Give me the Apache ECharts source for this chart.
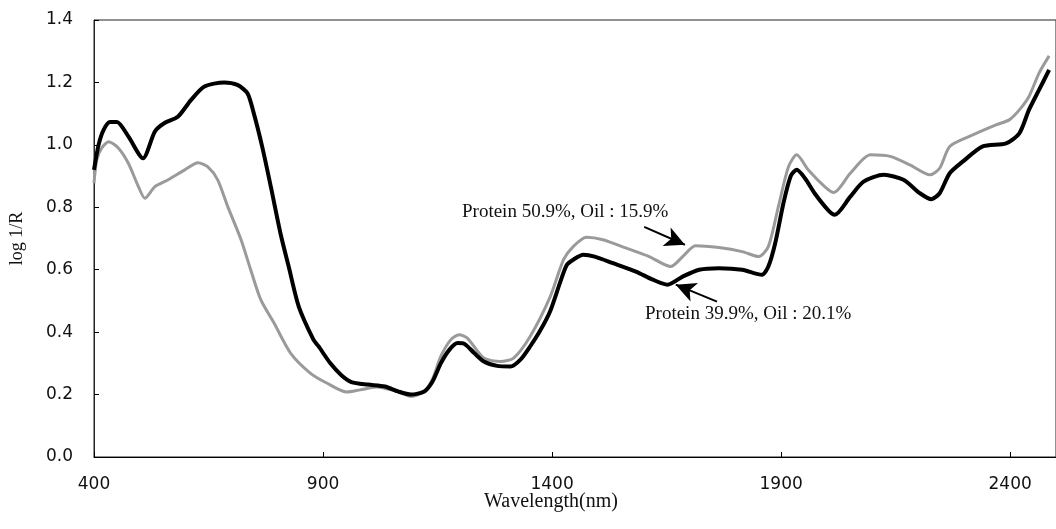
<!DOCTYPE html>
<html>
<head>
<meta charset="utf-8">
<script src="https://cdn.jsdelivr.net/npm/echarts@6/dist/echarts.min.js"></script>
<style>
  html, body { margin: 0; padding: 0; background: #fff; }
  #chart { width: 1056px; height: 529px; }
</style>
</head>
<body>
<div id="chart"></div>
<script>
// spectrum of the low protein sample (Protein 39.9%, Oil : 20.1%)
const blackWl = [400, 410, 421, 435, 450, 475, 507, 533, 554, 583, 612, 641, 684, 713, 735, 749, 767, 786, 807, 825, 847, 879, 890, 916, 940, 962, 998, 1035, 1064, 1092, 1121, 1139, 1157, 1176, 1194, 1208, 1230, 1251, 1280, 1309, 1331, 1352, 1374, 1396, 1417, 1432, 1446, 1468, 1493, 1533, 1583, 1620, 1652, 1685, 1721, 1764, 1815, 1858, 1872, 1887, 1905, 1921, 1934, 1952, 1973, 2002, 2017, 2051, 2080, 2124, 2167, 2203, 2228, 2246, 2268, 2297, 2340, 2391, 2420, 2441, 2463, 2485];
const blackVal = [0.92, 1.0, 1.048, 1.073, 1.073, 1.027, 0.957, 1.043, 1.07, 1.09, 1.144, 1.187, 1.2, 1.192, 1.165, 1.10, 0.995, 0.866, 0.717, 0.61, 0.482, 0.376, 0.355, 0.30, 0.262, 0.24, 0.232, 0.226, 0.21, 0.2, 0.21, 0.242, 0.30, 0.344, 0.365, 0.363, 0.333, 0.306, 0.292, 0.29, 0.312, 0.354, 0.405, 0.468, 0.557, 0.615, 0.632, 0.648, 0.642, 0.621, 0.594, 0.568, 0.552, 0.578, 0.60, 0.605, 0.60, 0.584, 0.61, 0.685, 0.813, 0.90, 0.92, 0.893, 0.845, 0.792, 0.776, 0.834, 0.882, 0.904, 0.888, 0.845, 0.826, 0.845, 0.909, 0.947, 0.995, 1.005, 1.037, 1.112, 1.176, 1.24];

// spectrum of the high protein sample (Protein 50.9%, Oil : 15.9%)
const grayWl = [400, 406, 417, 432, 453, 475, 497, 511, 533, 562, 598, 627, 648, 670, 692, 721, 742, 764, 793, 829, 872, 908, 952, 981, 1017, 1049, 1070, 1092, 1121, 1139, 1157, 1179, 1197, 1215, 1251, 1287, 1316, 1352, 1396, 1425, 1446, 1475, 1511, 1562, 1612, 1659, 1685, 1713, 1764, 1815, 1851, 1872, 1894, 1916, 1934, 1959, 1995, 2015, 2051, 2095, 2138, 2181, 2225, 2246, 2268, 2311, 2369, 2398, 2420, 2441, 2463, 2485];
const grayVal = [0.877, 0.952, 0.99, 1.01, 0.99, 0.941, 0.866, 0.829, 0.866, 0.888, 0.92, 0.943, 0.93, 0.888, 0.802, 0.696, 0.60, 0.504, 0.429, 0.333, 0.269, 0.237, 0.208, 0.215, 0.224, 0.215, 0.205, 0.194, 0.21, 0.25, 0.322, 0.376, 0.392, 0.381, 0.317, 0.306, 0.317, 0.386, 0.514, 0.632, 0.674, 0.704, 0.696, 0.669, 0.642, 0.61, 0.642, 0.677, 0.671, 0.658, 0.642, 0.674, 0.802, 0.93, 0.968, 0.92, 0.866, 0.847, 0.909, 0.968, 0.963, 0.936, 0.904, 0.925, 0.995, 1.027, 1.064, 1.08, 1.112, 1.155, 1.23, 1.285];

const xTicks = [400, 900, 1400, 1900, 2400];

const chart = echarts.init(document.getElementById("chart"));

const pairs = (xs, ys) => xs.map((x, i) => [x, ys[i]]);

const arrowStyle = { color: "#000", width: 2, type: "solid" };

chart.setOption({
  animation: false,
  grid: {
    left: 94,
    right: -7,
    top: 20,
    bottom: 72,
    show: true,
    borderColor: "#222",
    borderWidth: 1,
  },
  xAxis: {
    type: "value",
    min: 400,
    max: 2500,
    axisLine: { lineStyle: { color: "#000", width: 1 } },
    axisTick: { inside: true, length: 5, customValues: xTicks, lineStyle: { color: "#000" } },
    axisLabel: {
      customValues: xTicks,
      margin: 19,
      color: "#111",
      fontFamily: "DejaVu Sans",
      fontSize: 17,
      formatter: (v) => String(v),
    },
    splitLine: { show: false },
  },
  yAxis: {
    type: "value",
    min: 0,
    max: 1.4,
    interval: 0.2,
    name: "log 1/R",
    nameLocation: "middle",
    nameGap: 68,
    nameTextStyle: { fontFamily: "Liberation Serif", fontSize: 18, color: "#111" },
    axisLine: { show: true, lineStyle: { color: "#222", width: 1 } },
    axisTick: { show: true, inside: true, length: 5, lineStyle: { color: "#000" } },
    axisLabel: {
      margin: 21,
      color: "#111",
      fontFamily: "DejaVu Sans",
      fontSize: 17,
      formatter: (v) => v.toFixed(1),
    },
    splitLine: { show: false },
  },
  series: [
    {
      name: "Protein 50.9%, Oil : 15.9%",
      type: "line",
      data: pairs(grayWl, grayVal),
      showSymbol: false,
      smooth: 0.25,
      lineStyle: { color: "#9a9a9a", width: 3 },
      z: 2,
      markLine: {
        silent: true,
        symbol: ["none", "arrow"],
        symbolSize: [15, 20],
        lineStyle: arrowStyle,
        label: { show: false },
        data: [[{ coord: [1601, 0.737] }, { coord: [1690, 0.68] }]],
      },
    },
    {
      name: "Protein 39.9%, Oil : 20.1%",
      type: "line",
      data: pairs(blackWl, blackVal),
      showSymbol: false,
      smooth: 0.25,
      lineStyle: { color: "#000", width: 4 },
      z: 3,
      markLine: {
        silent: true,
        symbol: ["none", "arrow"],
        symbolSize: [15, 20],
        lineStyle: arrowStyle,
        label: { show: false },
        data: [[{ coord: [1760, 0.498] }, { coord: [1670, 0.552] }]],
      },
    },
  ],
  graphic: [
    {
      type: "text",
      left: 462,
      top: 203,
      style: {
        text: "Protein 50.9%, Oil : 15.9%",
        font: "19px 'Liberation Serif'",
        fill: "#111",
      },
    },
    {
      type: "text",
      left: 645,
      top: 305,
      style: {
        text: "Protein 39.9%, Oil : 20.1%",
        font: "19px 'Liberation Serif'",
        fill: "#111",
      },
    },
    {
      type: "text",
      left: 484,
      top: 492,
      style: {
        text: "Wavelength(nm)",
        font: "20px 'Liberation Serif'",
        fill: "#111",
      },
    },
  ],
});
</script>
</body>
</html>
